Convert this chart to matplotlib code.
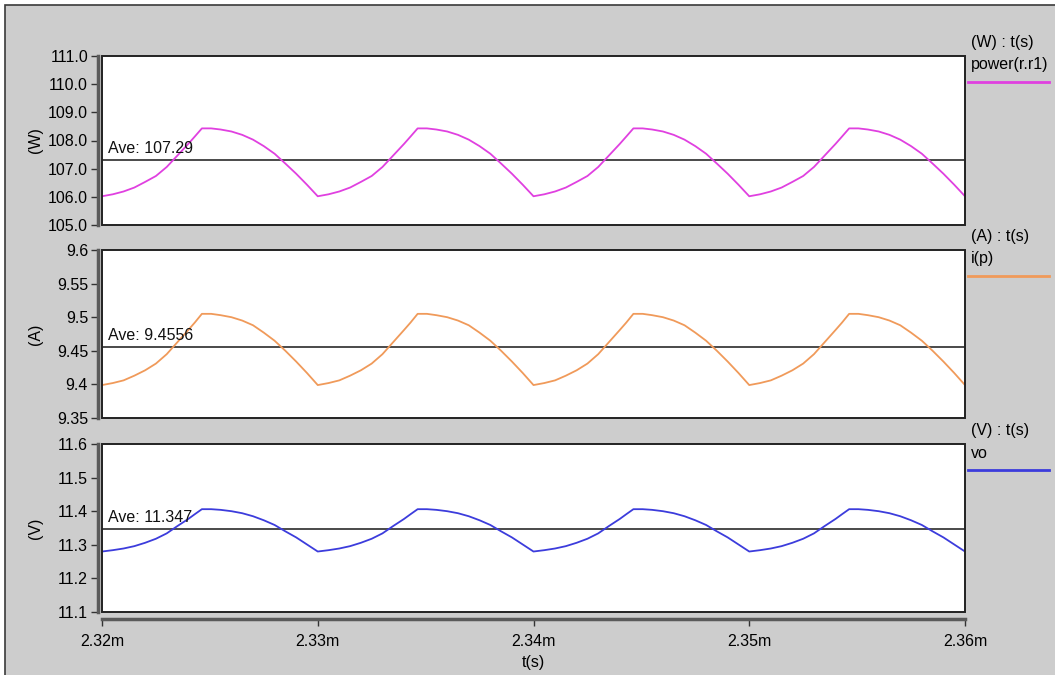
import numpy as np
import matplotlib
matplotlib.use("Agg")
import matplotlib.pyplot as plt
from matplotlib.patches import Rectangle
from matplotlib.lines import Line2D
from matplotlib.ticker import FuncFormatter, MultipleLocator

plt.rcParams['font.family'] = ['Liberation Sans', 'DejaVu Sans']

# one switching cycle (10 us), sample instants in us after the start of the cycle
cycle_us = [0, 0.5, 1.0, 1.5, 2.0, 2.5, 3.0, 3.5, 4.0, 4.3, 4.63,
            5.06, 5.5, 6.0, 6.5, 7.0, 7.5, 8.0, 8.5, 9.0, 9.5]
t_start_ms = 2.32
n_cycles = 4

# readings over one cycle (steady state, repeats every cycle)
power_cycle = [106.02, 106.09, 106.19, 106.33, 106.53, 106.74, 107.06, 107.47, 107.88, 108.14, 108.43,
               108.43, 108.39, 108.32, 108.20, 108.03, 107.80, 107.53, 107.18, 106.82, 106.43]
current_cycle = [9.399, 9.402, 9.406, 9.413, 9.421, 9.431, 9.445, 9.463, 9.481, 9.492, 9.505,
                 9.505, 9.503, 9.500, 9.495, 9.488, 9.477, 9.465, 9.450, 9.434, 9.417]
vo_cycle = [11.280, 11.284, 11.289, 11.296, 11.306, 11.318, 11.334, 11.356, 11.377, 11.391, 11.406,
            11.406, 11.404, 11.400, 11.394, 11.385, 11.373, 11.359, 11.340, 11.322, 11.301]

averages = [107.29, 9.4556, 11.347]
ave_labels = ['107.29', '9.4556', '11.347']
units = ['(W)', '(A)', '(V)']
names = ['power(r.r1)', 'i(p)', 'vo']
colors = ['#e040e0', '#f09a5a', '#3c3cdc']
ylims = [(105.0, 111.0), (9.35, 9.6), (11.1, 11.6)]
ysteps = [1.0, 0.05, 0.1]
x_ticks = [2.32, 2.33, 2.34, 2.35, 2.36]

t = np.concatenate([t_start_ms + (k * 10 + np.array(cycle_us)) / 1000 for k in range(n_cycles)]
                   + [[t_start_ms + n_cycles * 10 / 1000]])
series = [np.concatenate([c] * n_cycles + [[c[0]]]) for c in (power_cycle, current_cycle, vo_cycle)]

FS = 11.5
W, H = 1055, 675
fig = plt.figure(figsize=(W / 100, H / 100), dpi=100, facecolor='white')
fig.add_artist(Rectangle((5 / W, -0.05), 1.1, 1.05 - 5 / H, transform=fig.transFigure,
                         facecolor='#cdcdcd', edgecolor='#3a3a3a', lw=1.2, zorder=0))

left, right = 102, 965
panels = [(56, 225), (250, 418), (444, 612)]
fmts = [lambda v, p: f'{v:.1f}', lambda v, p: f'{v:g}', lambda v, p: f'{v:.1f}']

for i, (top, bottom) in enumerate(panels):
    ax = fig.add_axes([left / W, 1 - bottom / H, (right - left) / W, (bottom - top) / H])
    ax.set_facecolor('white')
    ax.plot(t, series[i], color=colors[i], lw=1.3, zorder=2)
    ax.axhline(averages[i], color='#4a4a4a', lw=1.4, zorder=1)
    ax.annotate('Ave: ' + ave_labels[i], xy=(t_start_ms, averages[i]), xytext=(6, 4),
                textcoords='offset pixels', fontsize=FS, va='bottom', color='#111111')
    ax.set_xlim(x_ticks[0], x_ticks[-1])
    ax.set_ylim(*ylims[i])
    ax.yaxis.set_major_locator(MultipleLocator(ysteps[i]))
    ax.yaxis.set_major_formatter(FuncFormatter(fmts[i]))

    for s in ('top', 'right', 'bottom'):
        ax.spines[s].set_visible(False)
    ax.spines['left'].set_position(('outward', 3))
    ax.spines['left'].set_linewidth(2.5)
    ax.spines['left'].set_color('#5a5a5a')
    ax.add_patch(Rectangle((0, 0), 1, 1, transform=ax.transAxes, fill=False,
                           edgecolor='#222222', lw=1.4, clip_on=False, zorder=5))
    ax.tick_params(axis='y', direction='out', length=5, width=1, color='#333333',
                   labelsize=FS, pad=2)
    # unit label centred on the panel
    fig.text(35 / W, 1 - (top + bottom) / 2 / H, units[i], rotation=90, fontsize=FS,
             ha='center', va='center')

    if i < 2:
        ax.set_xticks([])
    else:
        ax.spines['bottom'].set_visible(True)
        ax.spines['bottom'].set_position(('outward', 5))
        ax.spines['bottom'].set_linewidth(2.5)
        ax.spines['bottom'].set_color('#5a5a5a')
        ax.set_xticks(x_ticks)
        ax.xaxis.set_major_formatter(FuncFormatter(lambda v, p: f'{v:.2f}m'))
        ax.tick_params(axis='x', direction='out', length=5, width=1, color='#333333',
                       labelsize=FS, pad=6)
        ax.set_xlabel('t(s)', fontsize=FS, labelpad=4)

    # trace legend on the right
    fig.text(971 / W, 1 - (top - 14) / H, units[i] + ' : t(s)', fontsize=FS, va='center')
    fig.text(971 / W, 1 - (top + 9) / H, names[i], fontsize=FS, va='center')
    fig.add_artist(Line2D([968 / W, 1049 / W], [1 - (top + 26) / H] * 2,
                          color=colors[i], lw=2, transform=fig.transFigure))

fig.savefig('out.png', dpi=100, facecolor=fig.get_facecolor())
